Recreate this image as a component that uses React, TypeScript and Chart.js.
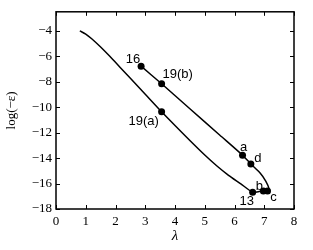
import React, { useEffect, useRef } from 'react';
import { Chart, registerables } from 'chart.js';

Chart.register(...registerables);

// Curve traced from the lower branch start, around the turn at c, back up to 16
const curveX = [0.8, 1.0, 1.2, 1.5, 1.8, 2.15, 2.5, 3.0, 3.55, 4.0, 4.5, 5.0, 5.4, 5.8, 6.2, 6.61, 6.8, 6.97, 7.11, 7.16, 7.05, 6.86, 6.55, 6.27, 5.5, 4.5, 3.55, 2.86];
const curveY = [-4.0, -4.25, -4.62, -5.27, -5.98, -6.85, -7.72, -8.98, -10.36, -11.44, -12.62, -13.76, -14.6, -15.35, -16.0, -16.68, -16.64, -16.58, -16.58, -16.4, -15.8, -15.17, -14.46, -13.77, -12.18, -10.12, -8.16, -6.77];

const pointNames = ['16', '19(b)', '19(a)', 'a', 'd', '13', 'b', 'c'];
const pointX = [2.86, 3.55, 3.55, 6.27, 6.55, 6.61, 6.97, 7.11];
const pointY = [-6.77, -8.16, -10.36, -13.77, -14.46, -16.68, -16.58, -16.58];

const xTicks = [0, 1, 2, 3, 4, 5, 6, 7, 8];
const yTicks = [-18, -16, -14, -12, -10, -8, -6, -4];
const xTitle = 'λ';
const yTitle = 'log(−ε)';

// label placement relative to its marker (pixels)
const labelOffsets: [number, number][] = [[-8, -7], [16, -9], [-18, 10], [1, -8], [7, -6], [-6, 9], [-4, -5], [6, 6]];

const framePlugin = {
  id: 'frameTicksLabels',
  afterDraw(chart: any) {
    const { ctx, chartArea } = chart;
    const { left, right, top, bottom } = chartArea;
    const xs = chart.scales.x;
    const ys = chart.scales.y;
    ctx.save();
    ctx.strokeStyle = '#000';
    ctx.lineWidth = 1;
    ctx.beginPath();
    xTicks.forEach((v) => {
      const px = Math.round(xs.getPixelForValue(v)) + 0.5;
      ctx.moveTo(px, bottom);
      ctx.lineTo(px, bottom - 4);
      ctx.moveTo(px, top);
      ctx.lineTo(px, top + 4);
    });
    yTicks.forEach((v) => {
      const py = Math.round(ys.getPixelForValue(v)) + 0.5;
      ctx.moveTo(left, py);
      ctx.lineTo(left + 4, py);
      ctx.moveTo(right, py);
      ctx.lineTo(right - 4, py);
    });
    ctx.stroke();
    ctx.lineWidth = 1.5;
    ctx.strokeRect(left, top, right - left, bottom - top);

    ctx.fillStyle = '#000';
    ctx.font = '13px "Liberation Sans", Arial, sans-serif';
    ctx.textAlign = 'center';
    ctx.textBaseline = 'middle';
    pointNames.forEach((n, i) => {
      const px = xs.getPixelForValue(pointX[i]);
      const py = ys.getPixelForValue(pointY[i]);
      const [dx, dy] = labelOffsets[i];
      ctx.fillText(n, px + dx, py + dy);
    });
    ctx.restore();
  },
};

const fmt = (v: number) => (v < 0 ? '\u2212' + Math.abs(v) : String(v));

export default function App() {
  const ref = useRef<HTMLCanvasElement | null>(null);
  useEffect(() => {
    if (!ref.current) return;
    const curve = curveX.map((x, i) => ({ x, y: curveY[i] }));
    const pts = pointX.map((x, i) => ({ x, y: pointY[i] }));
    const tickFont = { family: '"Liberation Serif", "Times New Roman", serif', size: 13 };
    const chart = new Chart(ref.current, {
      type: 'scatter',
      data: {
        datasets: [
          {
            data: pts,
            showLine: false,
            pointRadius: 3.5,
            pointBackgroundColor: '#000',
            pointBorderColor: '#000',
            pointBorderWidth: 0,
            order: 0,
          },
          {
            data: curve,
            showLine: true,
            borderColor: '#000',
            borderWidth: 1.5,
            pointRadius: 0,
            tension: 0.25,
            fill: false,
            order: 1,
          },
        ],
      },
      options: {
        animation: false,
        responsive: false,
        events: [],
        layout: { padding: { top: 5, right: 19, left: 0, bottom: 0 } },
        plugins: { legend: { display: false }, tooltip: { enabled: false } },
        scales: {
          x: {
            type: 'linear',
            min: 0,
            max: 8,
            grid: { display: false, drawTicks: false },
            border: { display: false },
            ticks: { color: '#000', font: tickFont, padding: 5, maxRotation: 0, callback: (v: any) => fmt(Number(v)) },
            afterBuildTicks: (s: any) => { s.ticks = xTicks.map((v) => ({ value: v })); },
            afterFit: (s: any) => { s.height = 41; },
            title: { display: true, text: xTitle, color: '#000', font: { family: '"Liberation Serif", serif', size: 15, style: 'italic' }, padding: { top: 0, bottom: 5 } },
          },
          y: {
            type: 'linear',
            min: -18,
            max: -2.5,
            grid: { display: false, drawTicks: false },
            border: { display: false },
            ticks: { color: '#000', font: tickFont, padding: 4, callback: (v: any) => fmt(Number(v)) },
            afterBuildTicks: (s: any) => { s.ticks = yTicks.map((v) => ({ value: v })); },
            afterFit: (s: any) => { s.width = 56; },
            title: { display: true, text: yTitle, color: '#000', font: { family: '"Liberation Serif", serif', size: 13 }, padding: { top: 4, bottom: 0 } },
          },
        },
      },
      plugins: [framePlugin],
    } as any);
    return () => chart.destroy();
  }, []);
  return (
    <div style={{ position: 'absolute', left: 0, top: 0, width: 313, height: 250, background: '#fff' }}>
      <canvas ref={ref} width={313} height={250} />
    </div>
  );
}
